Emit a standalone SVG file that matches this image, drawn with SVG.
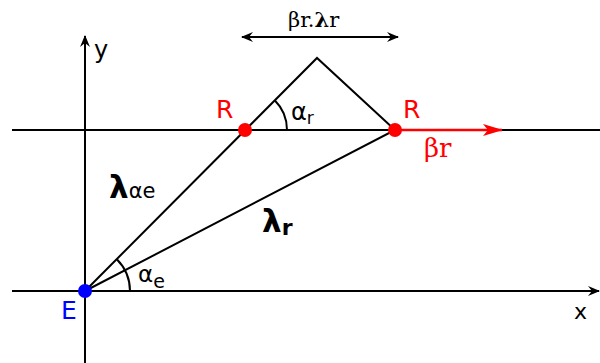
<svg xmlns="http://www.w3.org/2000/svg" width="600" height="363" viewBox="0 0 600 363">
<style>
.ln{stroke:#000;stroke-width:2;fill:none}
.t{font-family:"DejaVu Sans","Liberation Sans",sans-serif;fill:#000}
.s{font-family:"DejaVu Serif","Liberation Serif",serif;fill:#000}
</style>
<defs>
<marker id="ah" markerWidth="12" markerHeight="10" refX="11" refY="5" orient="auto-start-reverse" markerUnits="userSpaceOnUse">
<path d="M0,0 L12,5 L0,10 L4,5 Z" fill="#000"/>
</marker>
<marker id="ahr" markerWidth="20" markerHeight="12" refX="19" refY="6" orient="auto" markerUnits="userSpaceOnUse">
<path d="M0,0 L20,6 L0,12 L5,6 Z" fill="#f00"/>
</marker>
</defs>
<g id="connectors">
<line class="ln" x1="85" y1="363" x2="85" y2="36" marker-end="url(#ah)"/>
<line class="ln" x1="12" y1="291" x2="599" y2="291" marker-end="url(#ah)"/>
<line class="ln" x1="12" y1="130" x2="600" y2="130"/>
<polyline class="ln" points="85,291 317,58 395,130 85,291"/>
<line class="ln" x1="242" y1="37" x2="398" y2="37" stroke-width="1.5" marker-start="url(#ah)" marker-end="url(#ah)"/>
<path class="ln" d="M274.7,100.3 A42,42 0 0 1 287,130"/>
<path class="ln" d="M116.8,259.2 A45,45 0 0 1 130,291"/>
<line x1="395" y1="130" x2="502" y2="130" stroke="#f00" stroke-width="2.5" marker-end="url(#ahr)"/>
</g>
<g id="E">
<circle cx="85" cy="291" r="7" fill="#00f"/>
<text class="t" x="61" y="319" font-size="25" style="fill:#00f">E</text>
</g>
<g id="R1">
<circle cx="245" cy="130" r="7" fill="#f00"/>
<text class="t" x="216" y="118" font-size="25" style="fill:#f00">R</text>
</g>
<g id="R2">
<circle cx="395" cy="130" r="7" fill="#f00"/>
<text class="t" x="403" y="118" font-size="25" style="fill:#f00">R</text>
</g>
<g id="labels">
<text class="t" x="94" y="58" font-size="24">y</text>
<text class="t" x="574" y="319" font-size="22">x</text>
<text class="s" x="288" y="27" font-size="21">βr.<tspan font-weight="bold">λ</tspan>r</text>
<text class="s" x="424" y="157" font-size="26" style="fill:#f00">βr</text>
<text class="t" x="291" y="120" font-size="24">α<tspan font-size="17" dy="4">r</tspan></text>
<text class="t" x="138" y="282" font-size="23">α<tspan font-size="19" dy="6">e</tspan></text>
<text class="t" x="109" y="198" font-size="31" font-weight="bold">λ<tspan font-weight="normal" font-size="21">αe</tspan></text>
<text class="t" x="262" y="232" font-size="31" font-weight="bold">λ<tspan font-size="22" dy="3">r</tspan></text>
</g>
</svg>
